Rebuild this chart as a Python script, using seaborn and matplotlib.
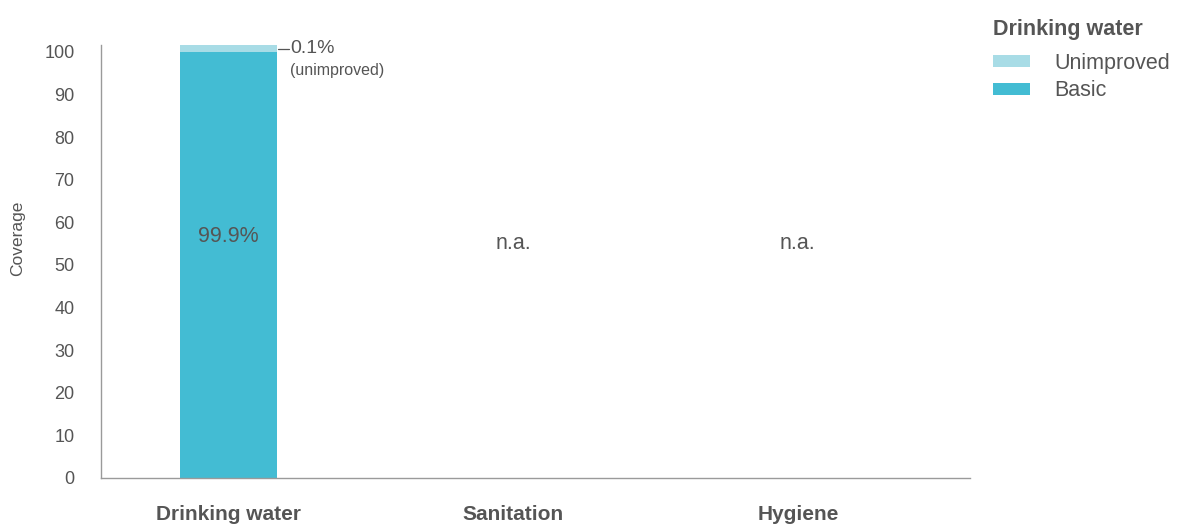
import numpy as np
import pandas as pd
import matplotlib
matplotlib.use("Agg")
import matplotlib.pyplot as plt
from matplotlib.patches import Patch
import seaborn as sns

# Coverage data (percent)
categories = ["Drinking water", "Sanitation", "Hygiene"]
basic = [99.9, np.nan, np.nan]
unimproved = [0.1, np.nan, np.nan]
na_labels = ["", "n.a.", "n.a."]

BASIC_COLOR = "#43BCD3"
UNIMPROVED_COLOR = "#A8DCE6"
TEXT_COLOR = "#555555"
SPINE_COLOR = "#9a9a9a"
MIN_SEGMENT = 1.6  # smallest drawn height so thin segments stay visible

sns.set_theme(style="white")
plt.rcParams["font.family"] = ["Liberation Sans", "DejaVu Sans"]

df = pd.DataFrame({"category": categories, "basic": basic, "unimproved": unimproved})
df["seg"] = df["unimproved"].apply(lambda v: max(v, MIN_SEGMENT) if pd.notna(v) else np.nan)
df["top"] = df["basic"] + df["seg"]

fig = plt.figure(figsize=(11.82, 5.25), dpi=100)
ax = fig.add_axes([101 / 1182, 1 - 478 / 525, (970 - 101) / 1182, (478 - 45) / 525])

sns.barplot(data=df, x="category", y="top", order=categories, color=UNIMPROVED_COLOR,
            width=0.34, saturation=1, ax=ax, linewidth=0)
sns.barplot(data=df, x="category", y="basic", order=categories, color=BASIC_COLOR,
            width=0.34, saturation=1, ax=ax, linewidth=0)

ax.set_xlim(-0.446, 2.604)
ax.set_ylim(0, 101.6)
ax.set_yticks(range(0, 101, 10))
ax.tick_params(axis="y", labelsize=13, labelcolor=TEXT_COLOR, length=0, pad=19)
ax.tick_params(axis="x", labelsize=15, labelcolor=TEXT_COLOR, length=0, pad=19.5)
for lbl in ax.get_xticklabels():
    lbl.set_fontweight("bold")
ax.set_xlabel("")
ax.set_ylabel("Coverage", fontsize=12.5, color=TEXT_COLOR)
ax.yaxis.set_label_coords(-0.0875, 0.554)

for side in ["top", "right"]:
    ax.spines[side].set_visible(False)
for side in ["left", "bottom"]:
    ax.spines[side].set_color(SPINE_COLOR)
    ax.spines[side].set_linewidth(1.0)

# value labels
for i, row in df.iterrows():
    if pd.notna(row["basic"]):
        ax.text(i, 55.4, f"{row['basic']:.1f}%", ha="center", va="baseline",
                fontsize=15.5, color=TEXT_COLOR)
        y_mid = row["basic"] + row["seg"] / 2
        x0 = i + 0.34 / 2 + 0.005
        ax.plot([x0, x0 + 0.04], [y_mid, y_mid], color=TEXT_COLOR, lw=0.9,
                clip_on=False)
        ax.text(x0 + 0.043, y_mid, f"{row['unimproved']:.1f}%", ha="left",
                va="center", fontsize=14, color=TEXT_COLOR)
        ax.text(x0 + 0.043, y_mid - 5.2, "(unimproved)", ha="left", va="center",
                fontsize=11.5, color=TEXT_COLOR)
    if na_labels[i]:
        ax.text(i, 53.8, na_labels[i], ha="center", va="baseline",
                fontsize=15.5, color=TEXT_COLOR)

handles = [Patch(facecolor=UNIMPROVED_COLOR, edgecolor="none", label="Unimproved"),
           Patch(facecolor=BASIC_COLOR, edgecolor="none", label="Basic")]
leg = fig.legend(handles=handles, title="Drinking water", loc="upper left",
                 bbox_to_anchor=(974 / 1182, 1 - 0 / 525), frameon=False,
                 fontsize=15.5, title_fontsize=15.5, handlelength=1.68,
                 handleheight=0.5, handletextpad=1.15, labelspacing=0.3,
                 alignment="left", labelcolor=TEXT_COLOR)
leg.get_title().set_fontweight("bold")
leg.get_title().set_color(TEXT_COLOR)
leg._legend_box.sep = 9  # extra room between title and entries

fig.savefig("out.png", dpi=100)
